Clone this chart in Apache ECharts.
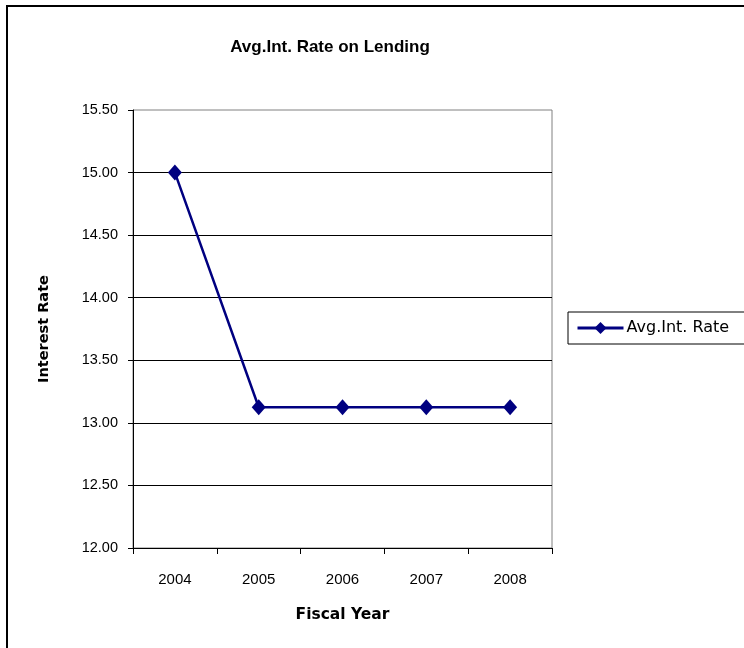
<!DOCTYPE html>
<html><head><meta charset="utf-8">
<script src="https://cdn.jsdelivr.net/npm/echarts@6/dist/echarts.min.js"></script>
<style>html,body{margin:0;padding:0;background:#fff}#c{width:744px;height:648px}</style>
</head><body><div id="c"></div>
<script>
var categories = ['2004','2005','2006','2007','2008'];
var rates = [15.00, 13.125, 13.125, 13.125, 13.125];
var seriesName = 'Avg.Int. Rate';
var chartTitle = 'Avg.Int. Rate on Lending';
var xName = 'Fiscal Year';
var yName = 'Interest Rate';

var font = 'Liberation Sans, Arial, sans-serif';
var wide = 'DejaVu Sans, Verdana, sans-serif';
var chart = echarts.init(document.getElementById('c'), null, {renderer:'canvas'});
chart.setOption({
  animation:false,
  backgroundColor:'#fff',
  graphic:[{type:'rect', shape:{x:7,y:6,width:800,height:700}, style:{fill:'none', stroke:'#000', lineWidth:2}, z:-1}],
  title:{text:chartTitle, left:325, textAlign:'center', top:34,
    textStyle:{fontFamily:font, fontSize:17, fontWeight:'bold', color:'#000'}},
  legend:{data:[{name:seriesName}], left:568, top:312, orient:'vertical',
    borderColor:'#000', borderWidth:1, borderRadius:0, padding:[8,40,8,8],
    itemWidth:46, itemHeight:15, itemGap:0,
    lineStyle:{width:3},
    textStyle:{fontFamily:wide, fontSize:16, color:'#000', padding:[0,0,0,-2]}},
  grid:{left:133, top:110, width:419, height:438, show:true, borderColor:'#808080', borderWidth:1},
  xAxis:{type:'category', data:categories, boundaryGap:true,
    name:xName, nameLocation:'middle', nameGap:59,
    nameTextStyle:{fontFamily:wide, fontSize:15.5, fontWeight:'bold', color:'#000'},
    axisLine:{lineStyle:{color:'#000', width:1}},
    axisTick:{show:true, length:6, alignWithLabel:false, lineStyle:{color:'#000'}},
    axisLabel:{fontFamily:font, fontSize:15, color:'#000', margin:24}},
  yAxis:{type:'value', min:12, max:15.5, interval:0.5,
    name:yName, nameLocation:'middle', nameGap:81, nameRotate:90,
    nameTextStyle:{fontFamily:wide, fontSize:14.5, fontWeight:'bold', color:'#000'},
    axisLine:{show:true, lineStyle:{color:'#000', width:1}},
    axisTick:{show:true, length:5, lineStyle:{color:'#000'}},
    axisLabel:{fontFamily:font, fontSize:14.5, color:'#000', margin:15,
      formatter:function(v){return v.toFixed(2);}},
    splitLine:{show:true, showMaxLine:false, lineStyle:{color:'#000', width:1}}},
  series:[{name:seriesName, type:'line', data:rates,
    symbol:'diamond', symbolSize:[14,16], showAllSymbol:true,
    lineStyle:{color:'#000080', width:2.5},
    itemStyle:{color:'#000080', borderWidth:0}}]
});
</script></body></html>
